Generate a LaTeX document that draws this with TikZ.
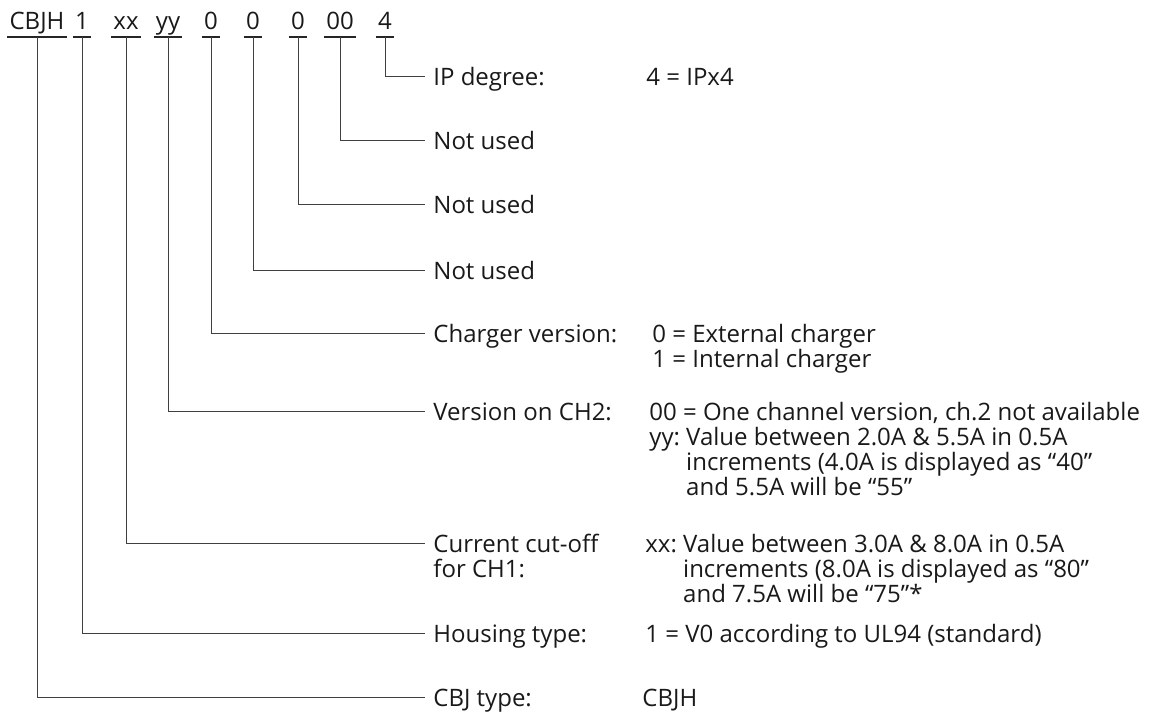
\documentclass[tikz,border=0pt]{standalone}
\usepackage{fontspec}
\setmainfont{Open Sans}
\usepackage{tikz}

\begin{document}
\begin{tikzpicture}[x=0.5pt, y=-0.5pt,
		every node/.style={font=\fontsize{12}{11.5}\selectfont, text=black!90},
		code/.style={anchor=base, inner xsep=1pt, inner ysep=0pt, text depth=4pt},
		lbl/.style={anchor=base west, inner xsep=4pt, inner ysep=0pt},
		val/.style={anchor=base west, inner sep=0pt},
		lead/.style={draw=black!75, line width=0.5pt}]
	\useasboundingbox (0,0) rectangle (1150,713);
	% code row
	\foreach \x/\n/\t in {37/cbj/CBJH, 82/hous/1, 126/cut/xx, 168/chtwo/yy, 211/charger/0, 253/nuc/0, 298/nub/0, 340/nua/00, 385/ip/4}
	{
		\node[code] (c-\n) at (\x,29) {\t};
		\draw[line width=1pt, black!85] (c-\n.south west) -- (c-\n.south east);
	}
	% labels
	\node[lbl] (l-ip) at (425,85) {IP degree:};
	\node[lbl] (l-nua) at (425,149) {Not used};
	\node[lbl] (l-nub) at (425,213) {Not used};
	\node[lbl] (l-nuc) at (425,279) {Not used};
	\node[lbl] (l-charger) at (425,342) {Charger version:};
	\node[lbl] (l-chtwo) at (425,420) {Version on CH2:};
	\node[lbl] (l-cut) at (425,552) {\begin{tabular}[t]{@{}l@{}}Current cut-off\\for CH1:\end{tabular}};
	\node[lbl] (l-hous) at (425,642) {Housing type:};
	\node[lbl] (l-cbj) at (425,706) {CBJ type:};
	% values
	\node[val] (v-ip) at (646,85) {4 = IPx4};
	\node[val] (v-charger) at (652,342) {\begin{tabular}[t]{@{}l@{}}0 = External charger\\1 = Internal charger\end{tabular}};
	\node[val] (v-chtwo) at (649,420) {\begin{tabular}[t]{@{}l@{\ }l@{}}
			\multicolumn{2}{@{}l@{}}{00 = One channel version, ch.2 not available}\\
			yy: & Value between 2.0A \& 5.5A in 0.5A\\
			& increments (4.0A is displayed as “40”\\
			& and 5.5A will be “55”
		\end{tabular}};
	\node[val] (v-cut) at (645,552) {\begin{tabular}[t]{@{}l@{\ }l@{}}
			xx: & Value between 3.0A \& 8.0A in 0.5A\\
			& increments (8.0A is displayed as “80”\\
			& and 7.5A will be “75”*
		\end{tabular}};
	\node[val] (v-hous) at (645,642) {1 = V0 according to UL94 (standard)};
	\node[val] (v-cbj) at (642,706) {CBJH};
	% leaders
	\foreach \n in {ip, nua, nub, nuc, charger, chtwo, cut, hous, cbj}
		\draw[lead] (c-\n.south) |- ([yshift=4.5pt]l-\n.base west);
\end{tikzpicture}
\end{document}
